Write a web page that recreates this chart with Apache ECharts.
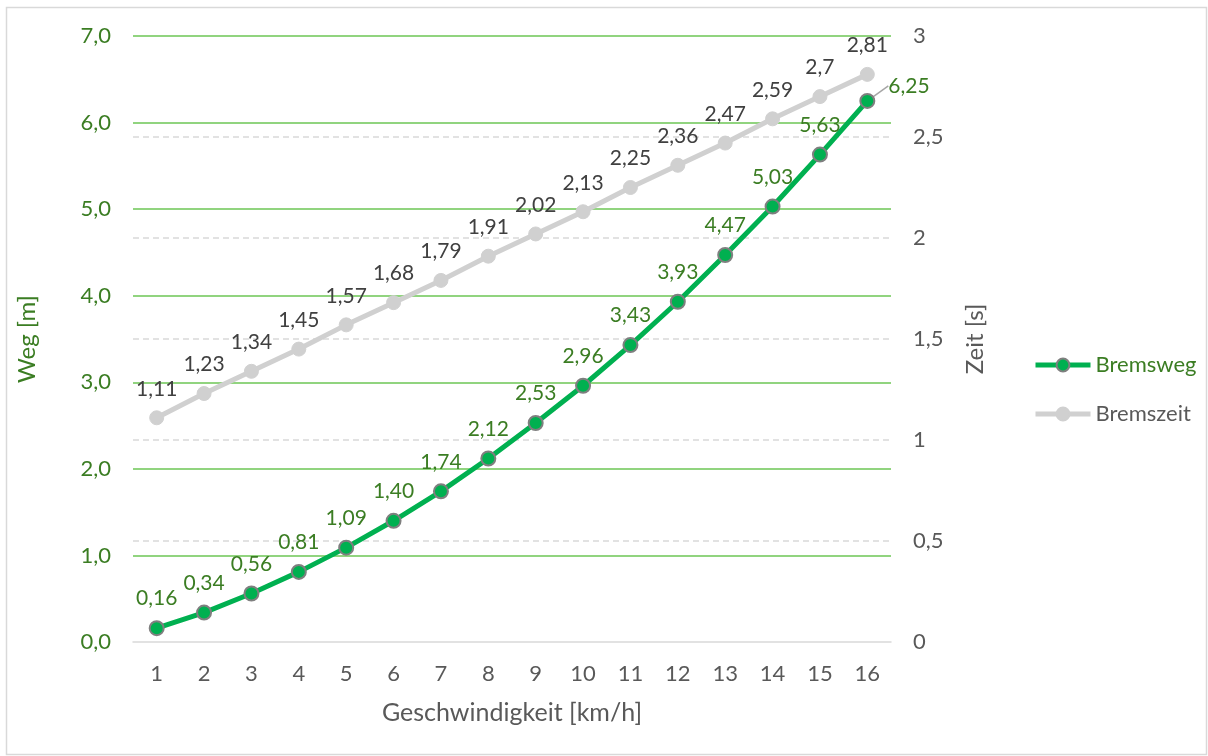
<!DOCTYPE html>
<html>
<head>
<meta charset="utf-8">
<script src="https://cdn.jsdelivr.net/npm/echarts@6/dist/echarts.min.js"></script>
<style>
  html, body { margin: 0; padding: 0; background: #fff; }
  #chart { width: 1208px; height: 756px; }
</style>
</head>
<body>
<div id="chart"></div>
<script>
// Speed categories (km/h)
const speeds = ['1','2','3','4','5','6','7','8','9','10','11','12','13','14','15','16'];
// Braking distance in metres
const bremsweg = [0.16, 0.34, 0.56, 0.81, 1.09, 1.40, 1.74, 2.12, 2.53, 2.96, 3.43, 3.93, 4.47, 5.03, 5.63, 6.25];
// Braking time in seconds
const bremszeit = [1.11, 1.23, 1.34, 1.45, 1.57, 1.68, 1.79, 1.91, 2.02, 2.13, 2.25, 2.36, 2.47, 2.59, 2.7, 2.81];

const FONT = 'Lato';
const GREEN_TEXT = '#3b7d23';
const GRAY_TEXT = '#595959';
const comma = v => String(v).replace('.', ',');

const chart = echarts.init(document.getElementById('chart'));
const lastIdx = bremsweg.length - 1;

chart.setOption({
  animation: false,
  textStyle: { fontFamily: FONT },
  graphic: [{
    type: 'rect',
    shape: { x: 6.5, y: 7.5, width: 1200, height: 747 },
    style: { fill: 'none', stroke: '#d9d9d9', lineWidth: 1.5 },
    silent: true
  }],
  grid: { left: 133, right: 317, top: 36, bottom: 114 },
  legend: {
    orient: 'vertical',
    left: 1028,
    top: 349,
    itemWidth: 55,
    itemHeight: 16,
    itemGap: 27,
    textStyle: { fontFamily: FONT, fontSize: 22 },
    data: [
      { name: 'Bremsweg', textStyle: { color: GREEN_TEXT }, lineStyle: { width: 5 } },
      { name: 'Bremszeit', textStyle: { color: GRAY_TEXT }, lineStyle: { width: 5 } }
    ]
  },
  xAxis: {
    type: 'category',
    data: speeds,
    boundaryGap: true,
    z: 2,
    name: 'Geschwindigkeit [km/h]',
    nameLocation: 'middle',
    nameGap: 58,
    nameTextStyle: { color: GRAY_TEXT, fontSize: 25, fontFamily: FONT },
    axisLine: { lineStyle: { color: '#d9d9d9', width: 1.5 } },
    axisTick: { show: false },
    axisLabel: { color: GRAY_TEXT, fontSize: 22, margin: 21, fontFamily: FONT }
  },
  yAxis: [{
    type: 'value',
    min: 0, max: 7, interval: 1,
    z: 1,
    name: 'Weg [m]',
    nameLocation: 'middle',
    nameGap: 94,
    nameRotate: 90,
    nameTextStyle: { color: GREEN_TEXT, fontSize: 24, fontFamily: FONT },
    axisLine: { show: false },
    axisTick: { show: false },
    axisLabel: { color: GREEN_TEXT, fontSize: 22, margin: 22, fontFamily: FONT,
                 formatter: v => v.toFixed(1).replace('.', ',') },
    splitLine: { showMinLine: false, lineStyle: { color: '#6cc655', width: 1.5 } }
  }, {
    type: 'value',
    min: 0, max: 3, interval: 0.5,
    z: 0,
    name: 'Zeit [s]',
    nameLocation: 'middle',
    nameGap: 72,
    nameRotate: 90,
    nameTextStyle: { color: GRAY_TEXT, fontSize: 24, fontFamily: FONT },
    axisLine: { show: false },
    axisTick: { show: false },
    axisLabel: { color: GRAY_TEXT, fontSize: 22, margin: 22, fontFamily: FONT,
                 formatter: v => comma(v) },
    splitLine: { showMinLine: false, showMaxLine: false,
                 lineStyle: { color: '#d9d9d9', width: 1.5, type: [6, 4] } }
  }],
  series: [{
    name: 'Bremszeit',
    type: 'line',
    yAxisIndex: 1,
    data: bremszeit,
    z: 3,
    symbol: 'circle',
    symbolSize: 14,
    lineStyle: { color: '#d0d0d0', width: 5 },
    itemStyle: { color: '#d0d0d0', borderColor: '#d0d0d0', borderWidth: 1 },
    label: {
      show: true, position: 'top', distance: 11,
      color: '#404040', fontSize: 21, fontFamily: FONT,
      formatter: p => comma(p.value)
    }
  }, {
    name: 'Bremsweg',
    type: 'line',
    yAxisIndex: 0,
    data: bremsweg.map((v, i) => i === lastIdx
      ? { value: v, label: { position: 'right', distance: 13 },
          labelLine: { show: true } }
      : v),
    z: 4,
    symbol: 'circle',
    symbolSize: 14,
    lineStyle: { color: '#00b050', width: 5 },
    itemStyle: { color: '#00b050', borderColor: '#7f7f7f', borderWidth: 2 },
    label: {
      show: true, position: 'top', distance: 11,
      color: GREEN_TEXT, fontSize: 21, fontFamily: FONT,
      formatter: p => p.value.toFixed(2).replace('.', ',')
    },
    labelLine: { show: false, lineStyle: { color: '#a6a6a6', width: 1.5 } },
    labelLayout: p => p.dataIndex === lastIdx ? { dy: -15 } : {}
  }]
});
</script>
</body>
</html>
